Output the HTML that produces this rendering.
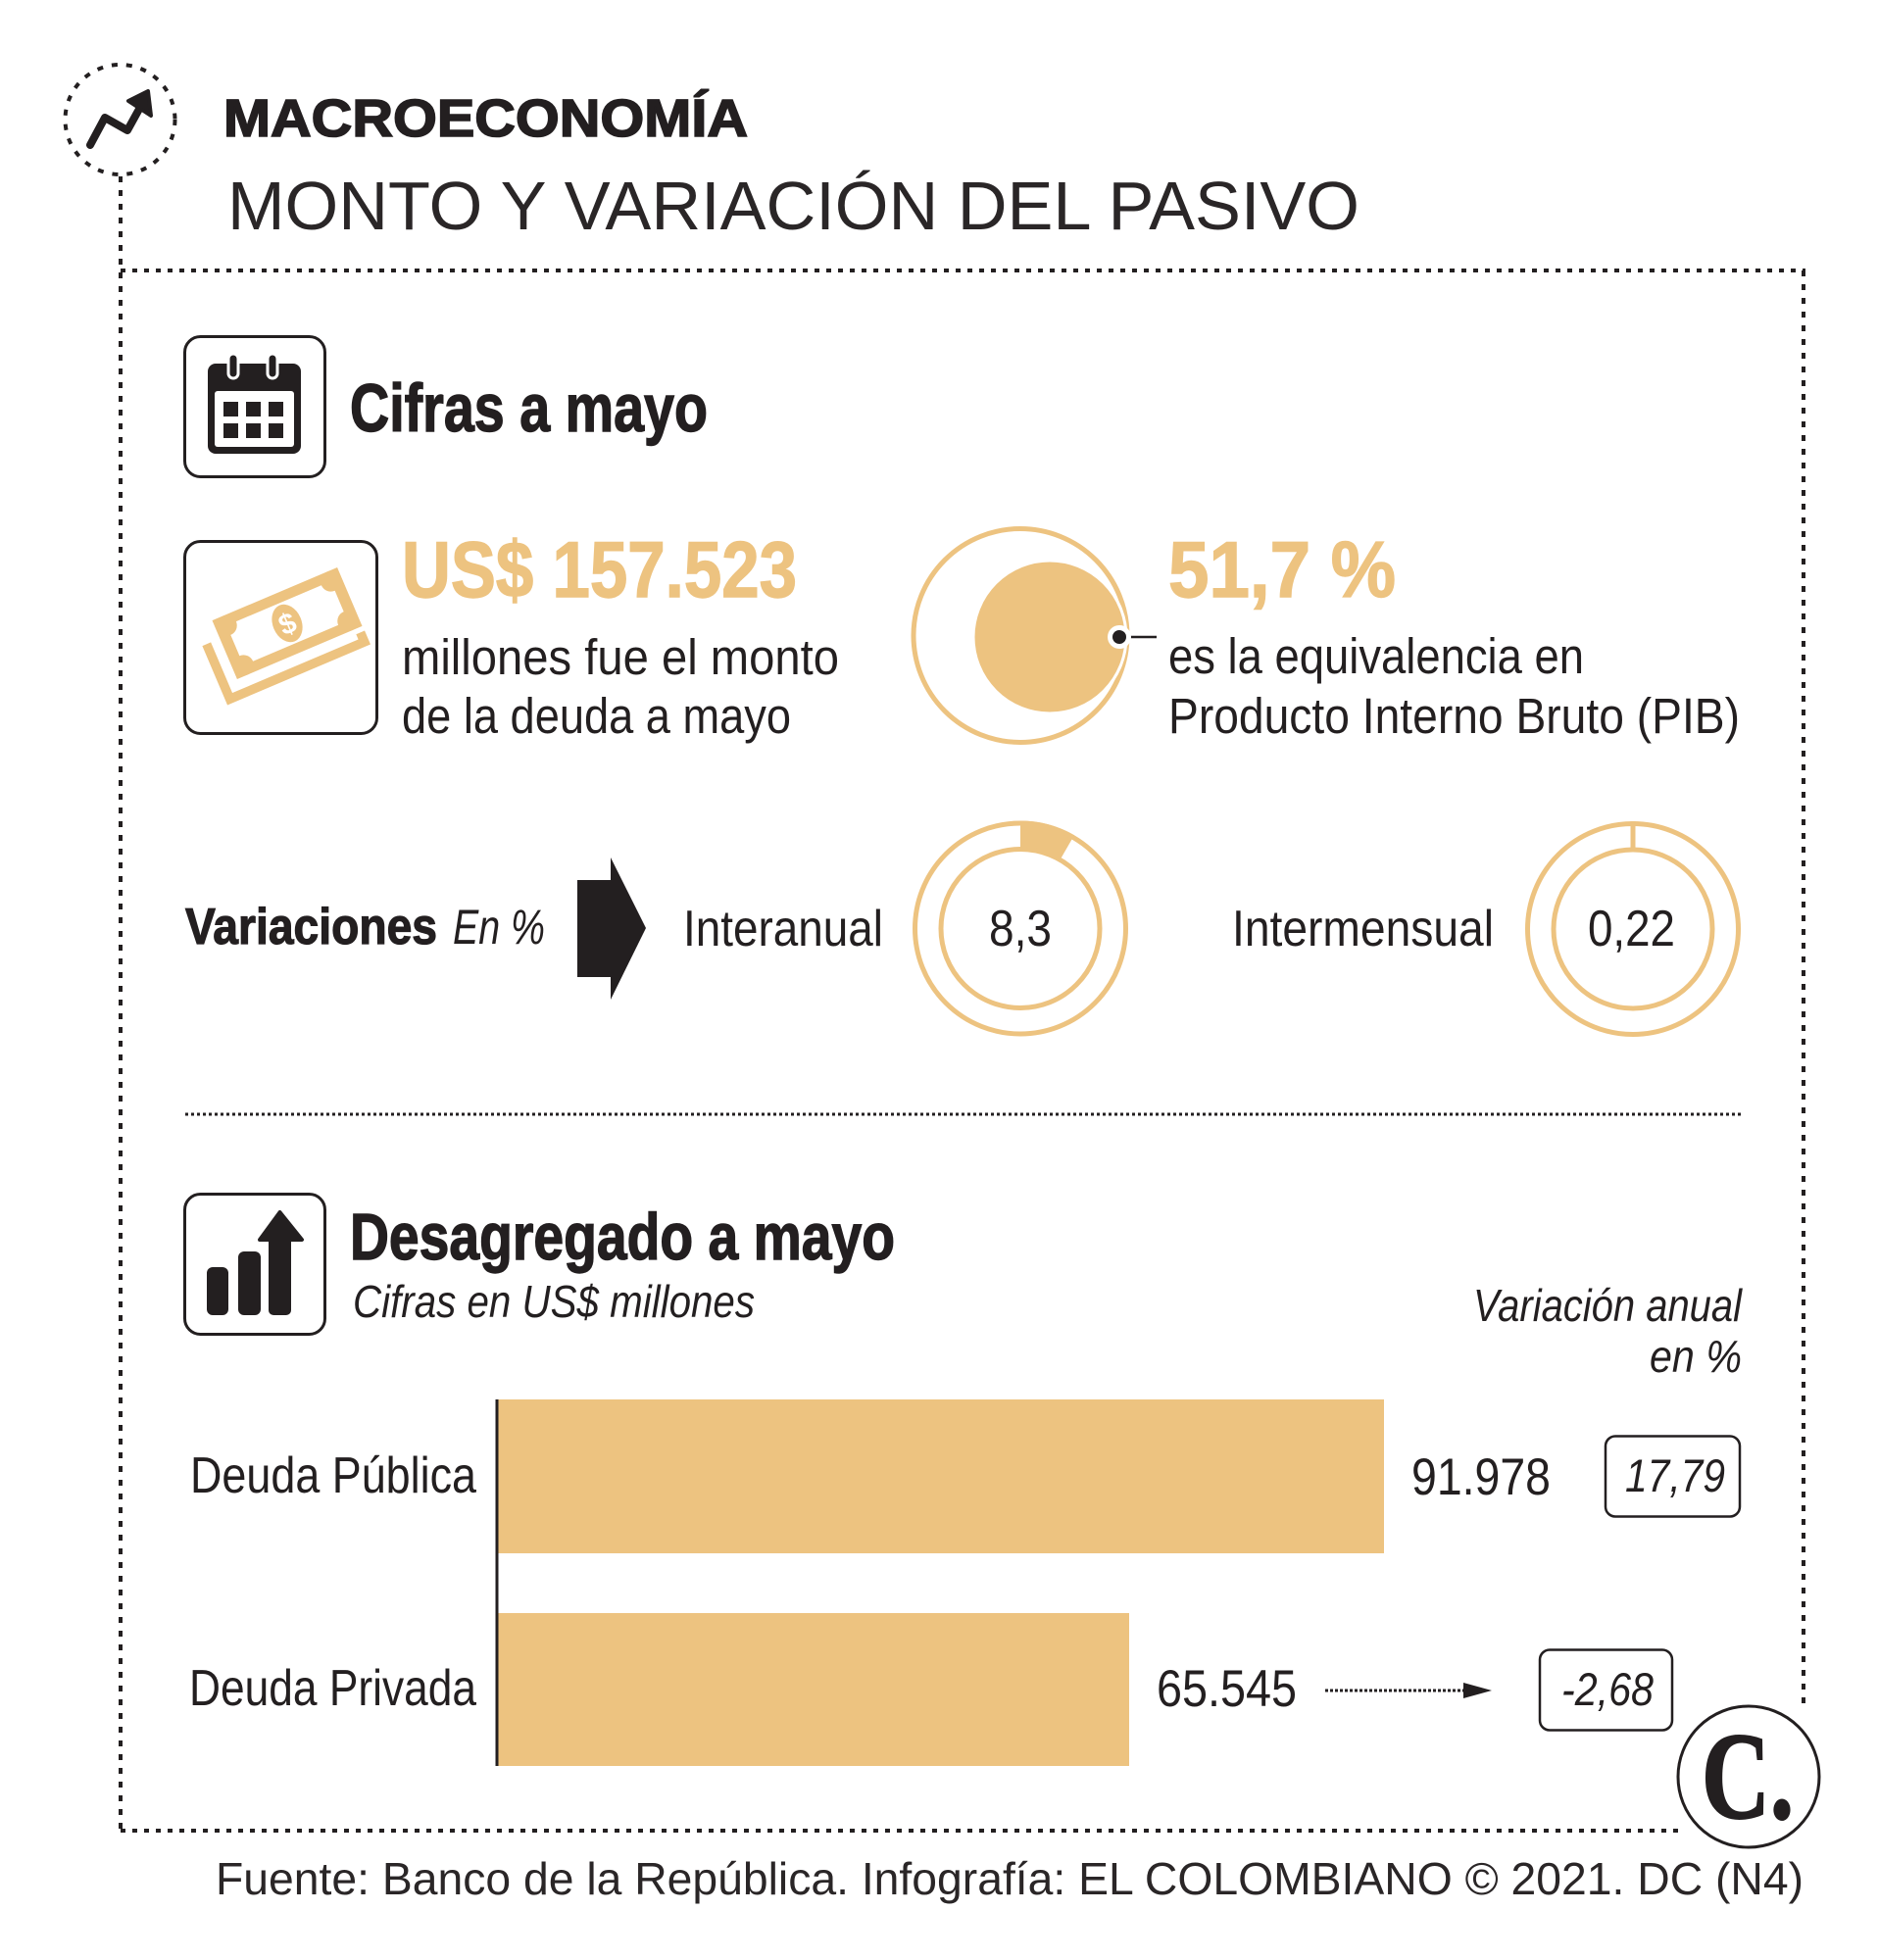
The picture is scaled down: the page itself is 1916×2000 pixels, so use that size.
<!DOCTYPE html>
<html>
<head>
<meta charset="utf-8">
<style>
  html,body{margin:0;padding:0;background:#fff;}
  svg{display:block;}
  text{font-family:"Liberation Sans", Arial, sans-serif; fill:#231F20;}
</style>
</head>
<body>
<svg width="1916" height="2000" viewBox="0 0 1916 2000" xmlns="http://www.w3.org/2000/svg">
  <rect x="0" y="0" width="1916" height="2000" fill="#ffffff"/>

  <!-- Header icon: dotted circle with zigzag arrow -->
  <circle cx="122.5" cy="122" r="56" fill="none" stroke="#231F20" stroke-width="4" stroke-dasharray="6 9"/>
  <polyline points="92,148 107,120 130,133 146,104" fill="none" stroke="#231F20" stroke-width="8" stroke-linecap="round" stroke-linejoin="round"/>
  <polygon points="151,93 131,103 154,118" fill="#231F20" stroke="#231F20" stroke-width="4" stroke-linejoin="round"/>

  <!-- Dotted frame -->
  <line x1="123" y1="180" x2="123" y2="1868" stroke="#231F20" stroke-width="4" stroke-dasharray="6 8"/>
  <line x1="123" y1="276" x2="1842" y2="276" stroke="#231F20" stroke-width="4" stroke-dasharray="5 7"/>
  <line x1="1840" y1="276" x2="1840" y2="1745" stroke="#231F20" stroke-width="4" stroke-dasharray="6 8"/>
  <line x1="123" y1="1868" x2="1712" y2="1868" stroke="#231F20" stroke-width="4" stroke-dasharray="5 7"/>

  <!-- Titles -->
  <text x="228" y="139" font-size="54" font-weight="bold" textLength="535" lengthAdjust="spacingAndGlyphs" stroke="#231F20" stroke-width="1.6">MACROECONOMÍA</text>
  <text x="232" y="234" font-size="70" textLength="1155" lengthAdjust="spacingAndGlyphs" style="fill:#2a2627">MONTO Y VARIACIÓN DEL PASIVO</text>

  <!-- Calendar icon -->
  <rect x="188.5" y="343.5" width="143" height="143" rx="16" fill="none" stroke="#231F20" stroke-width="3"/>
  <rect x="212" y="371" width="95" height="92" rx="8" fill="#231F20"/>
  <rect x="219" y="399" width="81" height="57" rx="3" fill="#fff"/>
  <rect x="233" y="361" width="10" height="25" rx="5" fill="#231F20" stroke="#fff" stroke-width="3"/>
  <rect x="273" y="361" width="10" height="25" rx="5" fill="#231F20" stroke="#fff" stroke-width="3"/>
  <rect x="228" y="410" width="15" height="15" fill="#231F20"/>
  <rect x="251" y="410" width="15" height="15" fill="#231F20"/>
  <rect x="274" y="410" width="15" height="15" fill="#231F20"/>
  <rect x="228" y="432" width="15" height="15" fill="#231F20"/>
  <rect x="251" y="432" width="15" height="15" fill="#231F20"/>
  <rect x="274" y="432" width="15" height="15" fill="#231F20"/>

  <text x="357" y="440" font-size="69" font-weight="bold" textLength="365" lengthAdjust="spacingAndGlyphs" stroke="#231F20" stroke-width="1.4">Cifras a mayo</text>

  <!-- Money icon -->
  <rect x="188.5" y="552.5" width="196" height="196" rx="16" fill="none" stroke="#231F20" stroke-width="3"/>
  <g transform="translate(293,636) rotate(-23) scale(1.05)">
    <polyline points="-80,-12 -80,46 62,46 62,36" fill="none" stroke="#EDC380" stroke-width="9" stroke-linejoin="miter"/>
    <rect x="-66" y="-31" width="132" height="62" fill="#EDC380"/>
    <rect x="-55" y="-21" width="110" height="42" fill="#fff"/>
    <circle cx="-55" cy="-21" r="10" fill="#EDC380"/>
    <circle cx="55" cy="-21" r="10" fill="#EDC380"/>
    <circle cx="-55" cy="21" r="10" fill="#EDC380"/>
    <circle cx="55" cy="21" r="10" fill="#EDC380"/>
    <ellipse cx="0" cy="0" rx="14" ry="19" fill="#EDC380"/>
    <text x="0" y="10" font-size="28" font-weight="bold" text-anchor="middle" style="fill:#fff">$</text>
  </g>

  <text x="410" y="609" font-size="81" font-weight="bold" textLength="403" lengthAdjust="spacingAndGlyphs" style="fill:#EDC380" stroke="#EDC380" stroke-width="1.4">US$ 157.523</text>
  <text x="410" y="688" font-size="51" textLength="446" lengthAdjust="spacingAndGlyphs">millones fue el monto</text>
  <text x="410" y="748" font-size="51" textLength="397" lengthAdjust="spacingAndGlyphs">de la deuda a mayo</text>

  <!-- Pie / ring -->
  <circle cx="1041" cy="648.5" r="109" fill="none" stroke="#EDC380" stroke-width="5"/>
  <circle cx="1071" cy="650" r="78" fill="#EDC380" stroke="#fff" stroke-width="3"/>
  <line x1="1142" y1="650" x2="1180" y2="650" stroke="#231F20" stroke-width="2.5"/>
  <circle cx="1142" cy="650" r="12" fill="#fff"/>
  <circle cx="1142" cy="650" r="7" fill="#231F20"/>

  <text x="1192" y="609" font-size="81" font-weight="bold" textLength="232" lengthAdjust="spacingAndGlyphs" style="fill:#EDC380" stroke="#EDC380" stroke-width="1.4">51,7 %</text>
  <text x="1192" y="687" font-size="51" textLength="424" lengthAdjust="spacingAndGlyphs">es la equivalencia en</text>
  <text x="1192" y="748" font-size="51" textLength="583" lengthAdjust="spacingAndGlyphs">Producto Interno Bruto (PIB)</text>

  <!-- Variaciones -->
  <text x="189" y="963" font-size="52" font-weight="bold" textLength="257" lengthAdjust="spacingAndGlyphs" stroke="#231F20" stroke-width="1.2">Variaciones</text>
  <text x="462" y="963" font-size="50" font-style="italic" textLength="94" lengthAdjust="spacingAndGlyphs">En %</text>

  <rect x="589" y="898" width="36" height="99" fill="#231F20"/>
  <polygon points="623,875 659,947 623,1020" fill="#231F20"/>

  <text x="697" y="965" font-size="52" textLength="204" lengthAdjust="spacingAndGlyphs">Interanual</text>

  <!-- Donut 8,3 -->
  <path d="M1041,837.5 A110,110 0 0 1 1096,852.2 L1081.5,877.4 A81,81 0 0 0 1041,866.5 Z" fill="#EDC380"/>
  <circle cx="1041" cy="947.5" r="107.5" fill="none" stroke="#EDC380" stroke-width="5"/>
  <circle cx="1041" cy="947.5" r="81" fill="none" stroke="#EDC380" stroke-width="5"/>
  <text x="1009" y="965" font-size="52" textLength="64" lengthAdjust="spacingAndGlyphs">8,3</text>

  <text x="1257" y="965" font-size="52" textLength="267" lengthAdjust="spacingAndGlyphs">Intermensual</text>

  <!-- Donut 0,22 -->
  <rect x="1663.5" y="838" width="5" height="30" fill="#EDC380"/>
  <circle cx="1666" cy="948" r="107.5" fill="none" stroke="#EDC380" stroke-width="5"/>
  <circle cx="1666" cy="948" r="81" fill="none" stroke="#EDC380" stroke-width="5"/>
  <text x="1620" y="965" font-size="52" textLength="89" lengthAdjust="spacingAndGlyphs">0,22</text>

  <!-- Separator -->
  <line x1="189" y1="1137" x2="1776" y2="1137" stroke="#231F20" stroke-width="3" stroke-dasharray="3 3"/>

  <!-- Bar chart icon -->
  <rect x="188.5" y="1218.5" width="143" height="143" rx="16" fill="none" stroke="#231F20" stroke-width="3"/>
  <rect x="211" y="1293" width="22" height="49" rx="6" fill="#231F20"/>
  <rect x="243" y="1277" width="23" height="65" rx="6" fill="#231F20"/>
  <rect x="274" y="1260" width="23" height="82" rx="5" fill="#231F20"/>
  <polygon points="285.5,1237 308,1265 265,1265" fill="#231F20" stroke="#231F20" stroke-width="4" stroke-linejoin="round"/>

  <text x="357" y="1285" font-size="67" font-weight="bold" textLength="556" lengthAdjust="spacingAndGlyphs" stroke="#231F20" stroke-width="1.4">Desagregado a mayo</text>
  <text x="360" y="1344" font-size="46" font-style="italic" textLength="410" lengthAdjust="spacingAndGlyphs">Cifras en US$ millones</text>

  <text x="1777" y="1348" font-size="46" font-style="italic" text-anchor="end" textLength="274" lengthAdjust="spacingAndGlyphs">Variación anual</text>
  <text x="1777" y="1400" font-size="46" font-style="italic" text-anchor="end" textLength="94" lengthAdjust="spacingAndGlyphs">en %</text>

  <!-- Bars -->
  <rect x="507" y="1428" width="905" height="157" fill="#EDC380"/>
  <rect x="507" y="1646" width="645" height="156" fill="#EDC380"/>
  <line x1="507" y1="1428" x2="507" y2="1802" stroke="#231F20" stroke-width="3"/>

  <text x="194" y="1523" font-size="52" textLength="292" lengthAdjust="spacingAndGlyphs">Deuda Pública</text>
  <text x="193" y="1740" font-size="52" textLength="293" lengthAdjust="spacingAndGlyphs">Deuda Privada</text>

  <text x="1440" y="1525" font-size="53" textLength="142" lengthAdjust="spacingAndGlyphs">91.978</text>
  <text x="1180" y="1741" font-size="53" textLength="143" lengthAdjust="spacingAndGlyphs">65.545</text>

  <rect x="1638" y="1465.5" width="137" height="82" rx="10" fill="none" stroke="#231F20" stroke-width="2.5"/>
  <text x="1658" y="1522" font-size="47" font-style="italic" textLength="102" lengthAdjust="spacingAndGlyphs">17,79</text>

  <line x1="1352" y1="1725" x2="1494" y2="1725" stroke="#231F20" stroke-width="3" stroke-dasharray="3 2"/>
  <polygon points="1493,1717 1522,1725 1493,1733" fill="#231F20"/>

  <rect x="1571" y="1683.5" width="135" height="82" rx="10" fill="none" stroke="#231F20" stroke-width="2.5"/>
  <text x="1593" y="1740" font-size="47" font-style="italic" textLength="94" lengthAdjust="spacingAndGlyphs">-2,68</text>

  <!-- Logo -->
  <circle cx="1784" cy="1813" r="72" fill="#fff" stroke="#231F20" stroke-width="3"/>
  <text x="1736" y="1855" font-size="126" font-weight="bold" textLength="94" lengthAdjust="spacingAndGlyphs" stroke="#231F20" stroke-width="2" style="font-family:'Liberation Serif', serif;">C.</text>

  <!-- Footer -->
  <text x="220" y="1933" font-size="46" textLength="1620" lengthAdjust="spacingAndGlyphs" style="fill:#2a2627">Fuente: Banco de la República. Infografía: EL COLOMBIANO © 2021. DC (N4)</text>
</svg>
</body>
</html>
